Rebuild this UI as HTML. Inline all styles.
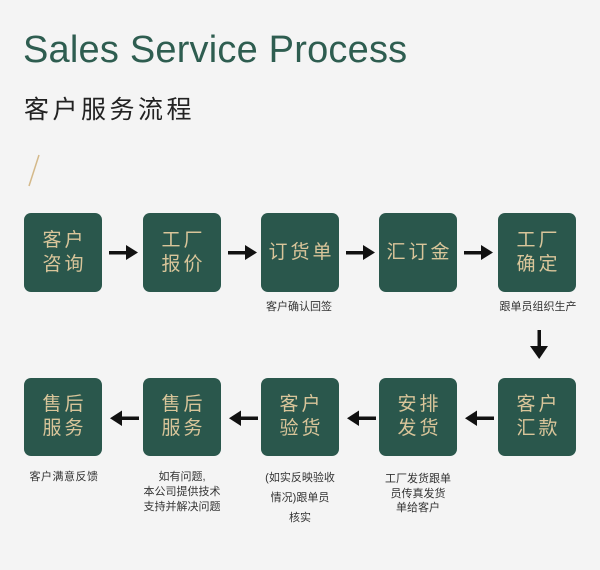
<!DOCTYPE html>
<html><head><meta charset="utf-8"><style>
*{margin:0;padding:0;box-sizing:border-box}
body{width:600px;height:570px;background:#f4f4f4;position:relative;overflow:hidden;font-family:"Liberation Sans","Noto Sans CJK SC",sans-serif}
.t{position:absolute;left:23px;top:27px;font-size:38px;color:#2e5d50;letter-spacing:0.2px;white-space:nowrap;line-height:46px}
.st{position:absolute;left:24px;top:93px;font-size:25px;color:#222;letter-spacing:3.5px;line-height:34px;white-space:nowrap}
.b{position:absolute;width:78px;height:79px;background:#2a574c;border-radius:7px;color:#d9c59a;font-size:19px;letter-spacing:3px;display:flex;align-items:center;justify-content:center;text-align:center;line-height:24px;padding-left:3px}
.l{position:absolute;font-size:11px;color:#333;text-align:center;white-space:nowrap;transform:translateX(-50%)}
svg{position:absolute;left:0;top:0}
</style></head><body>
<div class="t">Sales Service Process</div>
<div class="st">客户服务流程</div>

<div class="b" style="left:24px;top:213px">客户<br>咨询</div>
<div class="b" style="left:143px;top:213px">工厂<br>报价</div>
<div class="b" style="left:261px;top:213px">订货单</div>
<div class="b" style="left:379px;top:213px">汇订金</div>
<div class="b" style="left:498px;top:213px">工厂<br>确定</div>

<div class="b" style="left:24px;top:378px;height:78px">售后<br>服务</div>
<div class="b" style="left:143px;top:378px;height:78px">售后<br>服务</div>
<div class="b" style="left:261px;top:378px;height:78px">客户<br>验货</div>
<div class="b" style="left:379px;top:378px;height:78px">安排<br>发货</div>
<div class="b" style="left:498px;top:378px;height:78px">客户<br>汇款</div>

<div class="l" style="left:299px;top:299px;line-height:16px">客户确认回签</div>
<div class="l" style="left:538px;top:299px;line-height:16px">跟单员组织生产</div>
<div class="l" style="left:64px;top:469px;line-height:16px;letter-spacing:0.5px">客户满意反馈</div>
<div class="l" style="left:182px;top:470px;line-height:15px">如有问题,<br>本公司提供技术<br>支持并解决问题</div>
<div class="l" style="left:300px;top:468px;line-height:20px">(如实反映验收<br>情况)跟单员<br>核实</div>
<div class="l" style="left:418px;top:472px;line-height:14.5px">工厂发货跟单<br>员传真发货<br>单给客户</div>

<svg width="600" height="570" viewBox="0 0 600 570">
<line x1="39" y1="155" x2="29" y2="186" stroke="#d4b98a" stroke-width="1.5"/>
<g fill="#111">
<!-- right arrows row1 -->
<rect x="109" y="251" width="19" height="3.5"/><polygon points="126,245 138,252.5 126,260"/>
<rect x="228" y="251" width="19" height="3.5"/><polygon points="245,245 257,252.5 245,260"/>
<rect x="346" y="251" width="19" height="3.5"/><polygon points="363,245 375,252.5 363,260"/>
<rect x="464" y="251" width="19" height="3.5"/><polygon points="481,245 493,252.5 481,260"/>
<!-- down arrow -->
<rect x="537.5" y="330" width="3.5" height="18"/><polygon points="530,346 548,346 539.2,359"/>
<!-- left arrows row2 -->
<rect x="120" y="416.5" width="19" height="3.5"/><polygon points="122,410.5 110,418.2 122,426"/>
<rect x="239" y="416.5" width="19" height="3.5"/><polygon points="241,410.5 229,418.2 241,426"/>
<rect x="357" y="416.5" width="19" height="3.5"/><polygon points="359,410.5 347,418.2 359,426"/>
<rect x="475" y="416.5" width="19" height="3.5"/><polygon points="477,410.5 465,418.2 477,426"/>
</g>
</svg>
</body></html>
